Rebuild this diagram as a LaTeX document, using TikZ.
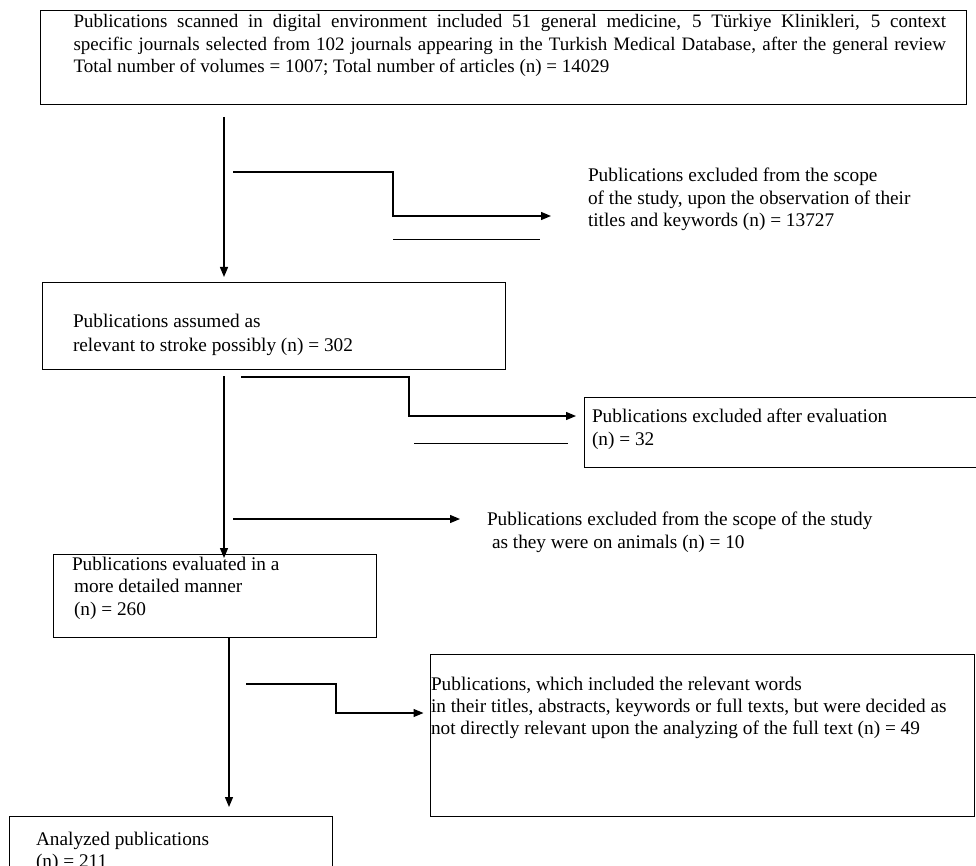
\documentclass[tikz,border=0pt]{standalone}
\usepackage{fontspec}
\setmainfont{Liberation Serif}
\usetikzlibrary{arrows.meta}
\begin{document}
\begin{tikzpicture}[x=1pt,y=-1pt,
  box/.style={draw, line width=1pt, inner sep=0pt, outer sep=0pt, anchor=north west},
  txt/.style={anchor=north west, inner sep=0pt, outer sep=0pt, align=left},
  arr/.style={line width=1.3pt, -{Triangle[length=10pt,width=8pt]}},
  thinline/.style={line width=0.8pt}]
\useasboundingbox (0,0) rectangle (976,866);

% boxes
\node[box, minimum width=926pt, minimum height=94pt] (b1) at (40,11) {};
\node[box, minimum width=463pt, minimum height=86pt] (b2) at (42,283) {};
\node[box, minimum width=420pt, minimum height=70pt] (b4) at (584,397) {};
\node[box, minimum width=323pt, minimum height=83pt] (b3) at (53.5,554) {};
\node[box, minimum width=543.5pt, minimum height=162pt] (b6) at (430.5,654) {};
\node[box, minimum width=323pt, minimum height=90pt] (b5) at (9,816) {};

% texts
\node[txt, text width=872.5pt, align=justify, font=\fontsize{19}{22.5}\selectfont] (t1) at (73.5,12.25)
 {\strut Publications scanned in digital environment included 51 general medicine, 5 Türkiye Klinikleri, 5 context\linebreak specific journals selected from 102 journals appearing in the Turkish Medical Database, after the general review\linebreak Total number of volumes = 1007; Total number of articles (n) = 14029};
\node[txt, font=\fontsize{19.3}{22.5}\selectfont] (e1) at (588,166.25)
 {\strut Publications excluded from the scope\\of the study, upon the observation of their\\titles and keywords (n) = 13727};
\node[txt, font=\fontsize{19.3}{23.5}\selectfont] (t2) at (73,311.5)
 {\strut Publications assumed as\\relevant to stroke possibly (n) = 302};
\node[txt, font=\fontsize{19.3}{23}\selectfont] (t4) at (592,405.9)
 {\strut Publications excluded after evaluation\\(n) = 32};
\node[txt, font=\fontsize{19.3}{23}\selectfont] (e3) at (487,508.9)
 {\strut Publications excluded from the scope of the study\\\hspace*{5pt}as they were on animals (n) = 10};
\node[txt, font=\fontsize{19.3}{22.5}\selectfont] (t3) at (72,554.25)
 {\strut Publications evaluated in a\\\hspace*{2pt}more detailed manner\\\hspace*{2pt}(n) = 260};
\node[txt, font=\fontsize{19.3}{22}\selectfont] (t6) at (431,674.6)
 {\strut Publications, which included the relevant words\\in their titles, abstracts, keywords or full texts, but were decided as\\not directly relevant upon the analyzing of the full text (n) = 49};
\node[txt, font=\fontsize{19.3}{22}\selectfont] (t5) at (36,829.6)
 {\strut Analyzed publications\\(n) = 211};

% main vertical arrows
\coordinate (s1) at (224,117);
\draw[arr] (s1) -- ([yshift=6pt]s1 |- b2.north);
\coordinate (s2) at (224,376);
\draw[arr] (s2) -- ([yshift=-4pt]s2 |- b3.north);
\coordinate (s3) at (229,637);
\draw[arr] (s3) -- ([yshift=9pt]s3 |- b5.north);

% side connectors
\coordinate (c1) at (233,172);
\coordinate (k1) at (393,216);
\coordinate (x1) at (551,216);
\draw[arr] (c1) -| (k1) -- (x1);
\coordinate (l1a) at (393,239);
\coordinate (l1b) at (540,239);
\draw[thinline] (l1a) -- (l1b);

\coordinate (c2) at (241,377);
\coordinate (k2) at (409,416);
\draw[arr] (c2) -| (k2) -- ([xshift=-8pt]b4.west |- k2);
\coordinate (l2a) at (414,443);
\coordinate (l2b) at (568,443);
\draw[thinline] (l2a) -- (l2b);

\coordinate (c3) at (233,519);
\coordinate (x3) at (460,519);
\draw[arr] (c3) -- (x3);

\coordinate (c4) at (246,684);
\coordinate (k4) at (336,713);
\draw[arr] (c4) -| (k4) -- ([xshift=-7pt]b6.west |- k4);
\end{tikzpicture}
\end{document}
